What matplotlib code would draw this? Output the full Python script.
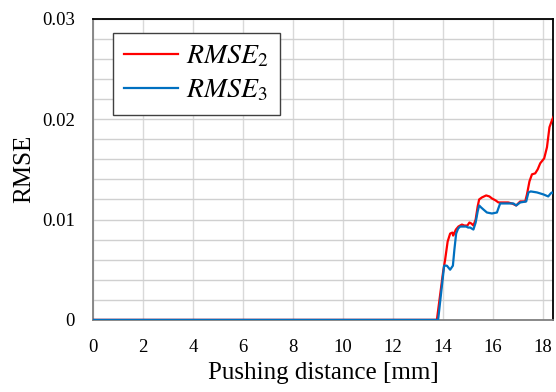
import matplotlib.pyplot as plt
import numpy as np

# RMSE vs pushing distance
x_rmse2 = [0, 13.75, 14.0, 14.08, 14.18, 14.28, 14.37, 14.4, 14.51, 14.61, 14.75, 14.85,
           14.97, 15.05, 15.13, 15.21, 15.3, 15.38, 15.44, 15.55, 15.72, 15.85, 15.95,
           16.1, 16.21, 16.41, 16.6, 16.75, 16.92, 17.08, 17.28, 17.35, 17.45, 17.55,
           17.68, 17.78, 17.88, 18.04, 18.15, 18.25, 18.35, 18.44]
y_rmse2 = [0, 0, 0.0048, 0.0060, 0.0078, 0.0086, 0.0087, 0.0084, 0.0090, 0.0093, 0.0095, 0.0094,
           0.0094, 0.0097, 0.0096, 0.0094, 0.0100, 0.0113, 0.0120, 0.0122, 0.0124, 0.0123, 0.0121,
           0.0119, 0.0117, 0.0117, 0.0117, 0.0116, 0.0114, 0.0118, 0.0118, 0.0125, 0.0138, 0.0145,
           0.0146, 0.0150, 0.0156, 0.0161, 0.0172, 0.0192, 0.0199, 0.0204]

x_rmse3 = [0, 13.8, 14.04, 14.15, 14.28, 14.39, 14.45, 14.52, 14.6, 14.68, 14.8, 14.92,
           15.0, 15.08, 15.21, 15.3, 15.38, 15.44, 15.52, 15.61, 15.75, 15.95, 16.15,
           16.22, 16.28, 16.55, 16.81, 16.92, 17.08, 17.32, 17.41, 17.5, 17.75, 18.01,
           18.2, 18.3, 18.35, 18.45]
y_rmse3 = [0, 0, 0.0054, 0.0054, 0.0050, 0.0054, 0.0070, 0.0086, 0.0091, 0.0093, 0.0093, 0.0093,
           0.0092, 0.0092, 0.0090, 0.0097, 0.0108, 0.0114, 0.0112, 0.0110, 0.0107, 0.0106, 0.0107,
           0.0112, 0.0116, 0.0116, 0.0116, 0.0114, 0.0117, 0.0118, 0.0127, 0.0128, 0.0127, 0.0125,
           0.0123, 0.0126, 0.0127, 0.0125]

xticks = np.arange(0, 19, 2)
yticks = [0, 0.01, 0.02, 0.03]
ytick_labels = ['0', '0.01', '0.02', '0.03']

plt.rcParams['font.family'] = ['Liberation Serif', 'DejaVu Serif']
plt.rcParams['mathtext.fontset'] = 'stix'

fig = plt.figure(figsize=(5.56, 3.92), dpi=100)
ax = fig.add_axes([0.167, 0.184, 0.828, 0.768])

ax.plot(x_rmse2, y_rmse2, color='#ff0000', linewidth=1.6, label=r'$RMSE_2$', zorder=3)
ax.plot(x_rmse3, y_rmse3, color='#0070c0', linewidth=1.6, label=r'$RMSE_3$', zorder=4)

ax.set_xlim(0, 18.4)
ax.set_ylim(0, 0.03)
ax.set_xticks(xticks)
ax.set_yticks(yticks)
ax.set_yticklabels(ytick_labels)
ax.set_yticks(np.arange(0, 0.0301, 0.002), minor=True)
ax.tick_params(axis='both', which='both', length=0, labelsize=13.5)
ax.tick_params(axis='x', pad=14)
ax.tick_params(axis='y', pad=13)

ax.grid(True, axis='x', which='major', color='#d9d9d9', linewidth=1)
ax.grid(True, axis='y', which='both', color='#d0d0d0', linewidth=1)
ax.set_axisbelow(True)

for side in ['top', 'right']:
    ax.spines[side].set_color('black')
    ax.spines[side].set_linewidth(1.3)
for side in ['left', 'bottom']:
    ax.spines[side].set_color('#808080')
    ax.spines[side].set_linewidth(1.3)

ax.set_xlabel('Pushing distance [mm]', fontsize=18, labelpad=4)
ax.set_ylabel('RMSE', fontsize=18, labelpad=5)

leg = ax.legend(loc='upper left', bbox_to_anchor=(0.043, 0.953), borderaxespad=0,
                fontsize=20, fancybox=False, framealpha=1, edgecolor='#404040',
                handlelength=1.95, handletextpad=0.3, borderpad=0.4, labelspacing=0.3)
leg.get_frame().set_linewidth(1.0)

fig.savefig('out.png', dpi=100)
